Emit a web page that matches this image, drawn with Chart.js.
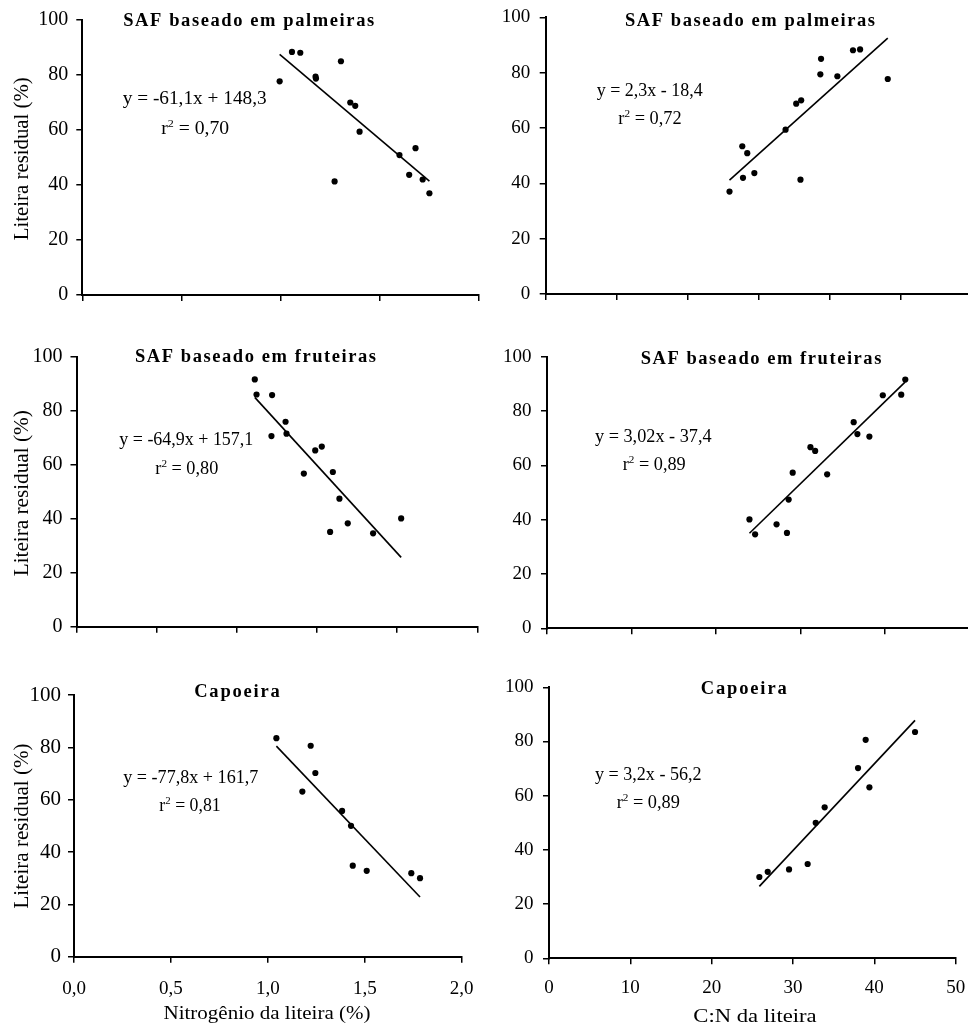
<!DOCTYPE html>
<html>
<head>
<meta charset="utf-8">
<script src="https://cdn.jsdelivr.net/npm/chart.js@4.4.1/dist/chart.umd.min.js"></script>
<style>
  html, body { margin: 0; padding: 0; background: #fff; overflow: hidden; }
  #wrap { position: relative; width: 968px; height: 1027px; overflow: hidden; }
  #wrap canvas { position: absolute; }
</style>
</head>
<body>
<div id="wrap"></div>
<script>
// ---- data (same samples share one residual array) ----
// SAF baseado em palmeiras
const palmN     = [0.995, 1.057, 1.099, 1.176, 1.178, 1.304, 1.272, 1.351, 1.376, 1.398, 1.599, 1.680, 1.648, 1.716, 1.750];
const palmCN    = [48.2, 44.3, 43.3, 38.7, 41.1, 38.8, 35.9, 36.0, 35.3, 33.8, 28.4, 27.7, 29.4, 27.8, 25.9];
const palmResid = [77.7, 88.4, 88.1, 79.4, 78.7, 85.0, 41.3, 70.0, 68.8, 59.4, 50.9, 53.4, 43.7, 42.0, 37.0];

// SAF baseado em fruteiras
const frutN     = [1.112, 1.123, 1.220, 1.216, 1.304, 1.310, 1.418, 1.489, 1.530, 1.599, 1.640, 1.582, 1.692, 1.850, 2.025];
const frutCN    = [42.42, 41.94, 39.76, 38.17, 36.31, 36.75, 33.17, 31.75, 31.19, 29.09, 28.61, 28.41, 27.18, 24.64, 23.97];
const frutResid = [91.6, 86.0, 85.8, 70.6, 75.9, 71.5, 56.7, 65.3, 66.7, 57.3, 47.4, 35.1, 38.3, 34.6, 40.1];

// Capoeira
const capN      = [1.044, 1.221, 1.245, 1.178, 1.383, 1.429, 1.438, 1.510, 1.740, 1.785];
const capCN     = [45.0, 38.93, 37.99, 39.39, 33.89, 32.79, 31.80, 29.51, 26.89, 25.86];
const capResid  = [83.5, 80.6, 70.2, 63.1, 55.7, 50.0, 34.8, 32.8, 31.9, 30.0];

// regression equations printed on each panel: [slope, intercept]
const fitPalmN  = [-61.1, 148.3];
const fitPalmCN = [2.3, -18.4];
const fitFrutN  = [-64.9, 157.1];
const fitFrutCN = [3.02, -37.4];
const fitCapN   = [-77.8, 161.7];
const fitCapCN  = [3.2, -56.2];

// tick labels
const yTicks  = ["0", "20", "40", "60", "80", "100"];
const nTicks  = ["0,0", "0,5", "1,0", "1,5", "2,0"];
const cnTicks = ["0", "10", "20", "30", "40", "50"];

const FONT = "'Liberation Serif', 'Times New Roman', serif";

// ---- panel layout (page pixels) ----
const panels = [
  { x: palmN, y: palmResid, fit: fitPalmN, title: "SAF baseado em palmeiras",
    eq: "y = -61,1x + 148,3", r2: " = 0,70", xMax: 2, xStep: 0.5, xLabels: null,
    box: { left: 0, top: 0, height: 330 }, area: { l: 82.3, r: 479, t: 20, b: 295 },
    yFont: 20, yPad: 8, titleAt: [248.7, 26, 251], eqAt: [194.7, 104.3, 144], r2At: [195.2, 134, 68],
    yTitle: [27.5, 158.7, 163] },
  { x: palmCN, y: palmResid, fit: fitPalmCN, title: "SAF baseado em palmeiras",
    eq: "y = 2,3x - 18,4", r2: " = 0,72", xMax: 60, xStep: 10, xLabels: null,
    box: { left: 480, top: 0, height: 330 }, area: { l: 545.7, r: 971.5, t: 17.3, b: 294 },
    yFont: 19, yPad: 9.5, titleAt: [750, 26, 250], eqAt: [649.7, 96, 106], r2At: [650, 124, 63.3] },
  { x: frutN, y: frutResid, fit: fitFrutN, title: "SAF baseado em fruteiras",
    eq: "y = -64,9x + 157,1", r2: " = 0,80", xMax: 2.5, xStep: 0.5, xLabels: null,
    box: { left: 0, top: 330, height: 330 }, area: { l: 76.5, r: 477.3, t: 356.7, b: 626.7 },
    yFont: 20, yPad: 8, titleAt: [255.5, 361.7, 241], eqAt: [186.3, 445, 134], r2At: [186.8, 474, 63],
    yTitle: [27.5, 493.3, 166] },
  { x: frutCN, y: frutResid, fit: fitFrutCN, title: "SAF baseado em fruteiras",
    eq: "y = 3,02x - 37,4", r2: " = 0,89", xMax: 50, xStep: 10, xLabels: null,
    box: { left: 480, top: 330, height: 330 }, area: { l: 547, r: 969.3, t: 356.7, b: 628.3 },
    yFont: 19, yPad: 9.5, titleAt: [761, 363.5, 240.7], eqAt: [653.3, 441.7, 116.7], r2At: [654.2, 470, 63] },
  { x: capN, y: capResid, fit: fitCapN, title: "Capoeira",
    eq: "y = -77,8x + 161,7", r2: " = 0,81", xMax: 2, xStep: 0.5, xLabels: nTicks, xLabelY: 989,
    box: { left: 0, top: 660, height: 367 }, area: { l: 74, r: 461.7, t: 695, b: 956.7 },
    yFont: 21, yPad: 7, titleAt: [237, 697, 85.7], eqAt: [190.8, 782.7, 135], r2At: [190, 810.7, 61.3],
    yTitle: [27.5, 826, 165], xTitle: ["Nitrogênio da liteira (%)", 267, 1019, 207] },
  { x: capCN, y: capResid, fit: fitCapCN, title: "Capoeira",
    eq: "y = 3,2x - 56,2", r2: " = 0,89", xMax: 50, xStep: 10, xLabels: cnTicks, xLabelY: 988.5,
    box: { left: 480, top: 660, height: 367 }, area: { l: 549, r: 955.7, t: 687.3, b: 958.3 },
    yFont: 19, yPad: 9.5, titleAt: [743.7, 694, 86], eqAt: [648.3, 780, 106.7], r2At: [648.3, 808.3, 63.3],
    xTitle: ["C:N da liteira", 755, 1022, 123.3] }
];

// spare room around each plot so Chart.js label padding never eats into the plot area
const SPARE = 45;

// text squeezed/stretched horizontally to the width seen in the figure
function stretched(ctx, text, cx, base, width, font) {
  ctx.font = font;
  const w = ctx.measureText(text).width;
  ctx.save();
  ctx.translate(cx - width / 2, base);
  ctx.scale(width / w, 1);
  ctx.textAlign = "left";
  ctx.textBaseline = "alphabetic";
  ctx.fillText(text, 0, 0);
  ctx.restore();
}

// bold titles in the figure are letter-spaced
function spaced(ctx, text, cx, base, width, font) {
  ctx.font = font;
  ctx.letterSpacing = "0px";
  const w = ctx.measureText(text).width;
  ctx.letterSpacing = ((width - w) / (text.length - 1)) + "px";
  ctx.textAlign = "left";
  ctx.textBaseline = "alphabetic";
  ctx.fillText(text, cx - width / 2, base);
  ctx.letterSpacing = "0px";
}

function drawR2(ctx, rest, cx, base, width) {
  const big = "18px " + FONT, small = "11px " + FONT;
  ctx.font = big;  const wr = ctx.measureText("r").width;
  const wRest = ctx.measureText(rest).width;
  ctx.font = small; const w2 = ctx.measureText("2").width;
  const total = wr + w2 + wRest;
  ctx.save();
  ctx.translate(cx - width / 2, base);
  ctx.scale(width / total, 1);
  ctx.textAlign = "left";
  ctx.textBaseline = "alphabetic";
  ctx.font = big;   ctx.fillText("r", 0, 0);
  ctx.font = small; ctx.fillText("2", wr, -7);
  ctx.font = big;   ctx.fillText(rest, wr + w2, 0);
  ctx.restore();
}

function textPlugin(p, ox, oy) {
  return {
    id: "panelText",
    afterDraw(chart) {
      const ctx = chart.ctx;
      ctx.save();
      ctx.translate(-ox, -oy); // work in page coordinates
      ctx.fillStyle = "#000";
      spaced(ctx, p.title, p.titleAt[0], p.titleAt[1], p.titleAt[2], "bold 18.5px " + FONT);
      stretched(ctx, p.eq, p.eqAt[0], p.eqAt[1], p.eqAt[2], "18px " + FONT);
      drawR2(ctx, p.r2, p.r2At[0], p.r2At[1], p.r2At[2]);
      if (p.yTitle) {
        ctx.save();
        ctx.translate(p.yTitle[0], p.yTitle[1]);
        ctx.rotate(-Math.PI / 2);
        stretched(ctx, "Liteira residual (%)", 0, 0, p.yTitle[2], "20px " + FONT);
        ctx.restore();
      }
      if (p.xTitle) {
        stretched(ctx, p.xTitle[0], p.xTitle[1], p.xTitle[2], p.xTitle[3], "18px " + FONT);
      }
      ctx.restore();
    }
  };
}

const wrap = document.getElementById("wrap");

panels.forEach((p) => {
  const b = p.box, a = p.area;
  const cl = b.left, ct = b.top - SPARE;
  const cw = Math.ceil(a.r + SPARE - cl);
  const ch = b.top + b.height - ct;

  const canvas = document.createElement("canvas");
  canvas.width = cw;
  canvas.height = ch;
  canvas.style.left = cl + "px";
  canvas.style.top = ct + "px";
  canvas.style.width = cw + "px";
  canvas.style.height = ch + "px";
  wrap.appendChild(canvas);

  const points = p.x.map((v, i) => ({ x: v, y: p.y[i] }));
  // trend line over the sampled range, from the printed equation
  const xr = [Math.min(...p.x), Math.max(...p.x)];
  const trend = xr.map((v) => ({ x: v, y: p.fit[0] * v + p.fit[1] }));

  const xFont = 19;
  const xPad = p.xLabels ? p.xLabelY - a.b - 6 - xFont * 1.2 / 2 : 0;

  new Chart(canvas, {
    type: "scatter",
    data: {
      datasets: [
        { data: points, pointRadius: 3.1, pointBackgroundColor: "#000", pointBorderWidth: 0, showLine: false },
        { data: trend, showLine: true, pointRadius: 0, borderColor: "#000", borderWidth: 1.6, fill: false }
      ]
    },
    options: {
      responsive: false,
      animation: false,
      events: [],
      layout: { padding: { left: 0, top: a.t - ct, right: cl + cw - a.r, bottom: 0 } },
      plugins: { legend: { display: false }, tooltip: { enabled: false }, title: { display: false } },
      scales: {
        x: {
          type: "linear", min: 0, max: p.xMax,
          ticks: {
            stepSize: p.xStep, display: !!p.xLabels, autoSkip: false, maxRotation: 0,
            callback: (v, i) => (p.xLabels ? p.xLabels[i] : ""),
            font: { family: FONT, size: xFont }, color: "#000", padding: xPad
          },
          grid: { drawOnChartArea: false, drawTicks: true, tickLength: 6, color: "#000", lineWidth: 1.5 },
          border: { color: "#000", width: 2 },
          afterFit: (s) => { s.height = ct + ch - a.b; }
        },
        y: {
          type: "linear", min: 0, max: 100,
          ticks: {
            stepSize: 20, autoSkip: false,
            callback: (v, i) => yTicks[i],
            font: { family: FONT, size: p.yFont }, color: "#000", padding: p.yPad
          },
          grid: { drawOnChartArea: false, drawTicks: true, tickLength: 6, color: "#000", lineWidth: 1.5 },
          border: { color: "#000", width: 2 },
          afterFit: (s) => { s.width = a.l - cl; }
        }
      }
    },
    plugins: [textPlugin(p, cl, ct)]
  });
});
</script>
</body>
</html>
